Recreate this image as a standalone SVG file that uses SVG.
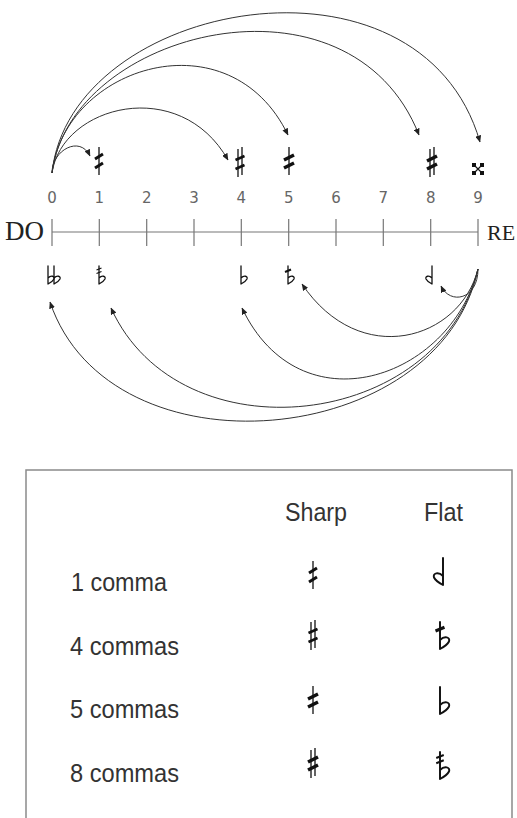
<svg xmlns="http://www.w3.org/2000/svg" width="517" height="818" viewBox="0 0 517 818">
<style>
.num{font-family:"DejaVu Sans","Liberation Sans",sans-serif;font-size:15px;fill:#666;text-anchor:middle}
.note{font-family:"Liberation Serif","Times New Roman",serif;font-size:27px;fill:#222}
.lbl{font-family:"Liberation Sans",Arial,sans-serif;font-size:25px;fill:#333}
.axis{stroke:#777;stroke-width:1.2;fill:none}
.arc{stroke:#333;stroke-width:1;fill:none;marker-end:url(#ah)}
.fl{stroke:#111;stroke-width:1.3;fill:none;stroke-linecap:round}
.sh{stroke:#111;fill:none}
</style>
<defs>
<marker id="ah" markerUnits="userSpaceOnUse" markerWidth="7" markerHeight="6" refX="6.5" refY="3" orient="auto">
<path d="M0,0 L7,3 L0,6 z" fill="#222"/>
</marker>
<g id="flat"><path class="fl" d="M0,-12 V6 M0,0 C3,-3 7,-2 6,1 C5,3 2,5 0,6"/></g>
<g id="rflat"><path class="fl" d="M0,-12 V6 M0,0 C-3,-3 -7,-2 -6,1 C-5,3 -2,5 0,6"/></g>
<g id="flat4"><use href="#flat"/><path class="sh" stroke-width="2" d="M-3,-6 L3,-8.5"/></g>
<g id="flat8"><use href="#flat"/><path class="sh" stroke-width="1.3" d="M-2.5,-8 L2.5,-10 M-2.5,-4.5 L2.5,-6.5"/></g>
<g id="dflat"><use href="#flat" x="-3"/><use href="#flat" x="3"/></g>
<g id="sh1"><path class="sh" stroke-width="1.3" d="M0,-14 V14"/><path class="sh" stroke-width="3" d="M-4,-2 L4,-7 M-4,7 L4,2"/></g>
<g id="sh4"><path class="sh" stroke-width="1.3" d="M-2,-13 V15 M2,-15 V13"/><path class="sh" stroke-width="2.5" d="M-4.5,-2 L4.5,-6 M-4.5,7 L4.5,3"/></g>
<g id="sh5"><path class="sh" stroke-width="1.3" d="M0,-14 V14"/><path class="sh" stroke-width="3.5" d="M-5,-1 L5,-6 M-5,7 L5,2"/></g>
<g id="sh8"><path class="sh" stroke-width="1.3" d="M-2,-13 V15 M2,-15 V13"/><path class="sh" stroke-width="3.5" d="M-5,-1 L5,-6 M-5,7 L5,2"/></g>
<g id="dsh"><path class="sh" stroke-width="1.2" d="M-5,-5 L5,5 M5,-5 L-5,5"/><rect x="-6" y="-6" width="4" height="4" fill="#111"/><rect x="2" y="-6" width="4" height="4" fill="#111"/><rect x="-6" y="2" width="4" height="4" fill="#111"/><rect x="2" y="2" width="4" height="4" fill="#111"/></g>
</defs>
<rect width="517" height="818" fill="#fff"/>

<g id="axis">
<path class="axis" d="M52,232 H478 M52,219 V246 M99.3,219 V246 M146.7,219 V246 M194,219 V246 M241.3,219 V246 M288.7,219 V246 M336,219 V246 M383.3,219 V246 M430.7,219 V246 M478,219 V246"/>
<text class="num" x="52" y="203">0</text>
<text class="num" x="99.3" y="203">1</text>
<text class="num" x="146.7" y="203">2</text>
<text class="num" x="194" y="203">3</text>
<text class="num" x="241.3" y="203">4</text>
<text class="num" x="288.7" y="203">5</text>
<text class="num" x="336" y="203">6</text>
<text class="num" x="383.3" y="203">7</text>
<text class="num" x="430.7" y="203">8</text>
<text class="num" x="478" y="203">9</text>
</g>
<g id="do"><text class="note" x="5" y="240">DO</text></g>
<g id="re"><text class="note" x="487" y="240" style="font-size:22px">RE</text></g>

<g id="sharp1"><use href="#sh1" x="99" y="161"/></g>
<g id="sharp4"><use href="#sh4" x="240" y="162"/></g>
<g id="sharp5"><use href="#sh5" x="289" y="161"/></g>
<g id="sharp8"><use href="#sh8" x="432" y="162"/></g>
<g id="sharp9"><use href="#dsh" x="478" y="169"/></g>

<g id="flat0"><use href="#dflat" x="51" y="278"/></g>
<g id="flat1"><use href="#flat8" x="99" y="278"/></g>
<g id="flat4n"><use href="#flat" x="241" y="278"/></g>
<g id="flat5"><use href="#flat4" x="288" y="278"/></g>
<g id="flat8n"><use href="#rflat" x="432" y="278"/></g>

<g id="connectors">
<path class="arc" d="M52,173 C52,150 80,135 90,156"/>
<path class="arc" d="M52,173 C62,105 180,75 228,160"/>
<path class="arc" d="M52,173 C65,65 230,15 288,135"/>
<path class="arc" d="M52,173 C70,30 350,-40 419,135"/>
<path class="arc" d="M52,173 C70,0 420,-65 480,142"/>
<path class="arc" d="M478,269 C478,300 450,305 441,286"/>
<path class="arc" d="M478,269 C460,340 360,370 302,284"/>
<path class="arc" d="M478,269 C450,380 300,430 242,308"/>
<path class="arc" d="M478,269 C440,430 180,460 111,308"/>
<path class="arc" d="M478,269 C440,450 110,480 50,302"/>
</g>

<g id="table">
<rect x="26" y="470" width="486" height="380" fill="none" stroke="#8a8a8a" stroke-width="1.5"/>
<text class="lbl" x="285" y="521" textLength="62" lengthAdjust="spacingAndGlyphs">Sharp</text>
<text class="lbl" x="424" y="521" textLength="39" lengthAdjust="spacingAndGlyphs">Flat</text>
<text class="lbl" x="71" y="591" textLength="96" lengthAdjust="spacingAndGlyphs">1 comma</text>
<text class="lbl" x="70" y="655" textLength="109" lengthAdjust="spacingAndGlyphs">4 commas</text>
<text class="lbl" x="70" y="718" textLength="109" lengthAdjust="spacingAndGlyphs">5 commas</text>
<text class="lbl" x="70" y="782" textLength="109" lengthAdjust="spacingAndGlyphs">8 commas</text>
<use href="#sh1" x="313" y="575"/>
<use href="#sh4" x="313" y="635"/>
<use href="#sh5" x="313" y="700"/>
<use href="#sh8" x="313" y="763"/>
<use href="#rflat" transform="translate(443,576) scale(1.5)"/>
<use href="#flat4" transform="translate(440,640) scale(1.5)"/>
<use href="#flat" transform="translate(440,705) scale(1.5)"/>
<use href="#flat8" transform="translate(440,770) scale(1.5)"/>
</g>
</svg>
